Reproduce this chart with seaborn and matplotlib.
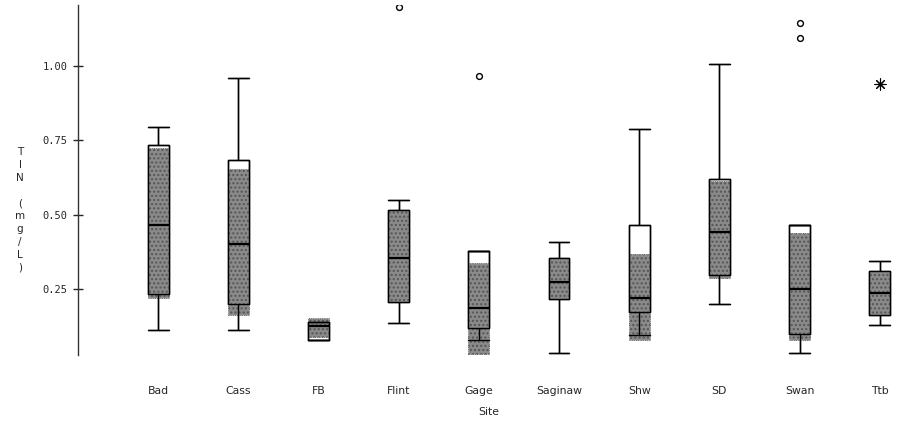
import numpy as np
import pandas as pd
import matplotlib
matplotlib.use("Agg")
import matplotlib.pyplot as plt
import seaborn as sns

sites = ["Bad", "Cass", "FB", "Flint", "Gage", "Saginaw", "Shw", "SD", "Swan", "Ttb"]
whisker_low = [0.112, 0.112, 0.079, 0.137, 0.079, 0.034, 0.096, 0.199, 0.036, 0.129]
q1 = [0.233, 0.200, 0.079, 0.205, 0.118, 0.215, 0.172, 0.296, 0.099, 0.163]
median = [0.465, 0.401, 0.124, 0.353, 0.185, 0.272, 0.220, 0.441, 0.249, 0.238]
q3 = [0.735, 0.683, 0.138, 0.515, 0.378, 0.353, 0.464, 0.619, 0.464, 0.309]
whisker_high = [0.795, 0.958, 0.138, 0.549, 0.378, 0.408, 0.789, 1.008, 0.464, 0.343]
notch_low = [0.219, 0.163, 0.090, 0.205, 0.031, 0.215, 0.079, 0.286, 0.077, 0.163]
notch_high = [0.725, 0.652, 0.151, 0.515, 0.338, 0.350, 0.367, 0.612, 0.437, 0.309]
outlier_sites = ["Flint", "Gage", "Swan", "Swan"]
outlier_values = [1.197, 0.965, 1.145, 1.095]
far_outlier_sites = ["Ttb"]
far_outlier_values = [0.940]

rows = []
for s, a, b, c, d, e in zip(sites, whisker_low, q1, median, q3, whisker_high):
    for v in (a, b, c, d, e):
        rows.append({"Site": s, "TIN": v})
df = pd.DataFrame(rows)
out_df = pd.DataFrame({"Site": outlier_sites, "TIN": outlier_values})
far_df = pd.DataFrame({"Site": far_outlier_sites, "TIN": far_outlier_values})

sns.set_style("white")
plt.rcParams["font.family"] = ["DejaVu Sans"]
plt.rcParams["hatch.color"] = "#c8c8c8"
plt.rcParams["hatch.linewidth"] = 1.0

fig = plt.figure(figsize=(8.99, 4.29), dpi=100)
ax = fig.add_axes([78 / 899, (429 - 355) / 429, (899 - 78) / 899, 350 / 429])

W = 0.26
sns.boxplot(data=df, x="Site", y="TIN", order=sites, whis=(0, 100), width=W,
            color="white", linecolor="black", linewidth=1.0, fill=True,
            capwidths=W, showfliers=False, ax=ax, zorder=1)

ax.bar(sites, np.array(notch_high) - np.array(notch_low), bottom=notch_low,
       width=W, color="#8a8a8a", hatch="....", edgecolor="#555555",
       linewidth=0.6, linestyle=":", zorder=1.5)

sns.boxplot(data=df, x="Site", y="TIN", order=sites, whis=(0, 100), width=W,
            color="black", linewidth=1.0, fill=False,
            medianprops={"linewidth": 1.6},
            capwidths=W, showfliers=False, ax=ax, zorder=3)

sns.stripplot(data=out_df, x="Site", y="TIN", order=sites, jitter=False,
              marker="o", color="white", edgecolor="black", linewidth=1.0,
              size=4.2, ax=ax, zorder=4)
sns.stripplot(data=far_df, x="Site", y="TIN", order=sites, jitter=False,
              marker=(8, 2, 0), color="black", edgecolor="black", linewidth=0.8,
              size=8, ax=ax, zorder=4)

ax.set_xlim(-1.0, 9.24)
ax.set_ylim(0.028, 1.205)
ax.set_yticks([0.25, 0.50, 0.75, 1.00])
ax.set_yticklabels(["0.25", "0.50", "0.75", "1.00"], family="DejaVu Sans Mono", fontsize=7.5)
ax.tick_params(axis="y", direction="inout", length=7, width=1, pad=4, left=True)
ax.tick_params(axis="x", length=0, pad=22, labelsize=7.8)

for side in ("top", "right", "bottom"):
    ax.spines[side].set_visible(False)
ax.spines["left"].set_color("#333333")
ax.spines["left"].set_linewidth(1.0)

ax.set_xlabel("Site", fontsize=7.8, labelpad=8)
ax.set_ylabel("")
fig.text(20 / 899, (429 - 210) / 429, "T\nI\nN\n \n(\nm\ng\n/\nL\n)",
         ha="center", va="center", fontsize=7.5, linespacing=1.35)

fig.savefig("out.png", dpi=100)
